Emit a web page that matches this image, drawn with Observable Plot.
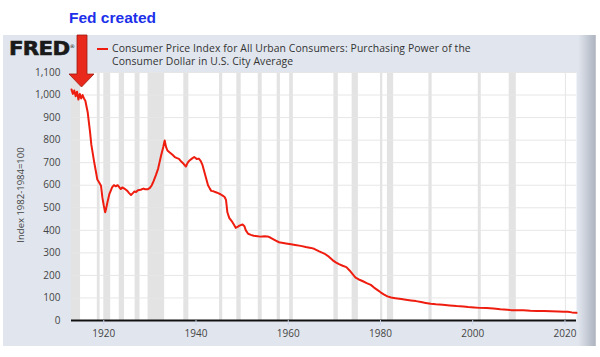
<!DOCTYPE html>
<html>
<head>
<meta charset="utf-8">
<script src="https://cdn.jsdelivr.net/npm/d3@7"></script>
<script src="https://cdn.jsdelivr.net/npm/@observablehq/plot@0.6"></script>
<style>
  html, body { margin: 0; padding: 0; background: #fff; }
  #wrap { position: relative; width: 600px; height: 357px; overflow: hidden; font-family: "Open Sans", sans-serif; }
  #panel { position: absolute; left: 3px; top: 35px; width: 592px; height: 311px; background: #e1e6ee; }
  #shade { position: absolute; left: 578px; top: 35px; width: 18px; height: 311px;
           background: linear-gradient(to right, rgba(0,0,0,0), rgba(60,70,90,0.32)); }
  #chart { position: absolute; left: 0; top: 0; }
  #fed { position: absolute; left: 69px; top: 9px; font: bold 15.5px "Liberation Sans", Arial, sans-serif; color: #1c30ea; white-space: nowrap; }
  #logo { position: absolute; left: 9px; top: 37px; font: bold 19px "DejaVu Sans", sans-serif; color: #1a1a1a; letter-spacing: -0.6px; transform: scaleX(1.12); transform-origin: left top; -webkit-text-stroke: 0.6px #1a1a1a; }
  #logo sup { font-size: 5px; font-weight: normal; -webkit-text-stroke: 0; }
  #legline { position: absolute; left: 97px; top: 48px; width: 11px; height: 2px; background: #ee1d0f; }
  #legtext { position: absolute; left: 112px; top: 42px; font-size: 10.4px; line-height: 13px; color: #333; white-space: nowrap; letter-spacing: 0.1px; }
  #ylab { position: absolute; left: 20px; top: 195px; transform: translate(-50%, -50%) rotate(-90deg); font-size: 9.5px; color: #444; white-space: nowrap; }
  #arrow { position: absolute; left: 0; top: 0; }
</style>
</head>
<body>
<div id="wrap">
  <div id="panel"></div>
  <div id="shade"></div>
  <div id="chart"></div>
  <div id="logo">FRED<sup>®</sup></div>
  <div id="legline"></div>
  <div id="legtext">Consumer Price Index for All Urban Consumers: Purchasing Power of the<br>Consumer Dollar in U.S. City Average</div>
  <div id="ylab">Index 1982-1984=100</div>
  <div id="fed">Fed created</div>
  <svg id="arrow" width="120" height="110">
    <polygon points="77,35 87,35 87,74 94,74 81.5,87 69,74 77,74" fill="#e8291c" stroke="#9b1a12" stroke-width="0.8"/>
  </svg>
</div>
<script>
// Purchasing power of the consumer dollar (index 1982-1984=100)
const years = [
  1913.0, 1913.3, 1913.6, 1913.9, 1914.2, 1914.5, 1914.8, 1915.1, 1915.4, 1915.7,
  1916.0, 1916.5, 1917.0, 1917.3, 1917.9, 1918.3, 1918.6, 1919.0, 1919.4, 1919.7,
  1920.0, 1920.3, 1920.5, 1920.8, 1921.2, 1921.5, 1921.8, 1922.2, 1922.6, 1923.0,
  1923.4, 1923.7, 1924.0, 1924.4, 1924.8, 1925.1, 1925.5, 1925.9, 1926.3, 1926.6,
  1927.0, 1927.4, 1928.0, 1928.6, 1929.0, 1929.5, 1930.0, 1930.4, 1930.8, 1931.3,
  1931.8, 1932.4, 1932.9, 1933.2, 1933.5, 1933.8, 1934.3, 1934.9, 1935.4, 1935.9,
  1936.3, 1936.8, 1937.3, 1937.8, 1938.2, 1938.6, 1939.1, 1939.6, 1940.2, 1940.6,
  1941.0, 1941.4, 1941.8, 1942.2, 1942.6, 1943.0, 1943.3, 1943.8, 1944.3, 1944.8,
  1945.3, 1945.7, 1946.2, 1946.5, 1946.8, 1947.2, 1947.9, 1948.3, 1948.6, 1949.0,
  1949.4, 1950.1, 1950.5, 1950.8, 1951.3, 1951.9, 1952.5, 1953.3, 1954.0, 1954.8,
  1955.5, 1956.1, 1956.6, 1957.3, 1958.0, 1958.6, 1959.5, 1960.6, 1961.5, 1962.7,
  1963.8, 1964.9, 1965.6, 1966.6, 1967.8, 1968.8, 1969.6, 1970.3, 1971.0, 1971.8,
  1972.6, 1973.3, 1974.0, 1974.6, 1975.3, 1976.2, 1977.0, 1977.9, 1978.6, 1979.3,
  1980.1, 1980.8, 1981.5, 1982.3, 1983.2, 1984.5, 1985.5, 1986.6, 1987.7, 1988.8,
  1989.8, 1990.9, 1992.0, 1993.5, 1995.0, 1996.5, 1998.0, 1999.0, 2000.3, 2001.5,
  2003.0, 2004.5, 2006.0, 2007.5, 2008.3, 2009.5, 2011.0, 2012.5, 2014.0, 2015.5,
  2017.0, 2018.5, 2019.8, 2020.6, 2021.5, 2022.5
];
const values = [
  1025, 1005, 1020, 995, 1015, 980, 1005, 985, 1000, 985,
  975, 925, 840, 780, 705, 660, 625, 612, 598, 545,
  510, 480, 495, 525, 560, 575, 590, 600, 595, 600,
  590, 583, 590, 586, 580, 575, 565, 557, 565, 572,
  570, 578, 580, 585, 582, 582, 588, 600, 618, 645,
  675, 730, 770, 798, 770, 754, 745, 735, 725, 720,
  717, 705, 695, 683, 700, 710, 718, 725, 716, 718,
  708, 690, 660, 630, 600, 585, 575, 573, 569, 565,
  560, 555, 548, 535, 480, 455, 436, 422, 411, 415,
  421, 426, 418, 400, 385, 380, 376, 374, 372, 374,
  373, 368, 362, 354, 347, 345, 342, 338, 335, 331,
  326, 322, 318, 308, 297, 283, 268, 258, 250, 243,
  237, 222, 205, 190, 182, 174, 166, 158, 146, 136,
  124, 115, 107, 102, 99, 95, 92, 89, 86, 82,
  78, 74, 72, 70, 67, 64, 62, 60, 58, 56,
  55, 53, 50, 48, 46, 46, 45, 43, 42, 42,
  41, 40, 39, 38.6, 36, 34
];
// Recession shading (start, end as decimal years)
const recessionStart = [1913.0, 1918.6, 1920.0, 1923.35, 1926.8, 1929.6, 1937.35, 1945.1, 1948.85, 1953.5, 1957.6, 1960.3, 1969.9, 1973.85, 1980.0, 1981.5, 1990.5, 2001.2, 2007.9, 2020.1];
const recessionEnd   = [1914.96, 1919.2, 1921.5, 1924.5, 1927.85, 1933.2, 1938.45, 1945.8, 1949.8, 1954.35, 1958.3, 1961.1, 1970.85, 1975.2, 1980.5, 1982.85, 1991.2, 2001.85, 2009.45, 2020.3];
const yTicks = [0, 100, 200, 300, 400, 500, 600, 700, 800, 900, 1000, 1100];
const xTicks = [1920, 1940, 1960, 1980, 2000, 2020];

const series = years.map((x, i) => ({x, y: values[i]}));
const recessions = recessionStart.map((s, i) => ({s, e: recessionEnd[i]}));

const chart = Plot.plot({
  width: 600,
  height: 357,
  marginLeft: 71,
  marginRight: 24,
  marginTop: 72,
  marginBottom: 37,
  style: {background: "transparent", fontFamily: "Open Sans, sans-serif", fontSize: "10px", color: "#444"},
  x: {domain: [1913, 2022.5]},
  y: {domain: [0, 1100]},
  marks: [
    Plot.frame({fill: "white", stroke: null}),
    Plot.rect(recessions, {x1: "s", x2: "e", fill: "#e3e3e3"}),
    Plot.ruleY(yTicks.filter(d => d > 0), {stroke: "#e6e6e6", strokeWidth: 1}),
    Plot.line(series, {x: "x", y: "y", stroke: "#ee1d0f", strokeWidth: 2}),
    Plot.ruleY([0], {stroke: "#111", strokeWidth: 2}),
    Plot.axisY(yTicks, {tickSize: 0, tickPadding: 11, tickFormat: d3.format(","), label: null, fill: "#444"}),
    Plot.axisX(xTicks, {tickSize: 5, tickPadding: 4, stroke: "#ccd6eb", tickFormat: d => String(d), label: null, fill: "#444"})
  ]
});
document.getElementById("chart").appendChild(chart);
</script>
</body>
</html>
